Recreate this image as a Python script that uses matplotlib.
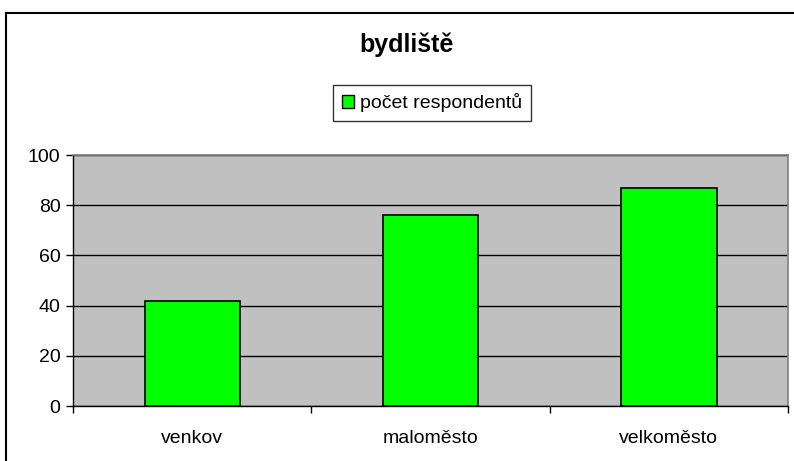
import matplotlib
matplotlib.use("Agg")
import matplotlib.pyplot as plt
from matplotlib.lines import Line2D
from matplotlib.patches import Patch

categories = ["venkov", "maloměsto", "velkoměsto"]
values = [42, 76, 87]
series_name = "počet respondentů"
title = "bydliště"
yticks = [0, 20, 40, 60, 80, 100]

plt.rcParams['font.family'] = ['Liberation Sans', 'DejaVu Sans']

W, H = 794, 461
fig = plt.figure(figsize=(W / 100, H / 100), dpi=100)
fig.patch.set_facecolor('white')

def fx(px):
    return px / W

def fy(py):
    return 1 - py / H

left, right, top, bottom = 73, 788, 155, 406
ax = fig.add_axes([fx(left), fy(bottom), fx(right) - fx(left), fy(top) - fy(bottom)])
ax.set_facecolor('#c0c0c0')

x = list(range(len(categories)))
ax.bar(x, values, width=0.4, color='#00ff00', edgecolor='black', linewidth=1.2, zorder=3)

ax.set_xlim(-0.5, len(categories) - 0.5)
ax.set_ylim(0, 100)
ax.set_yticks(yticks)
ax.set_yticklabels([str(v) for v in yticks], fontsize=14)
ax.yaxis.grid(True, color='black', linewidth=1.0, zorder=1)
ax.set_axisbelow(True)

ax.set_xticks([i - 0.5 for i in range(len(categories) + 1)], minor=False)
ax.set_xticklabels([])
ax.set_xticks(x, minor=True)
ax.set_xticklabels(categories, minor=True, fontsize=14)
ax.tick_params(axis='x', which='major', direction='out', length=5, width=1, color='black')
ax.tick_params(axis='x', which='minor', length=0, pad=17)
ax.tick_params(axis='y', direction='out', length=5, width=1, color='black', pad=4)

for s in ['top', 'right']:
    ax.spines[s].set_color('#808080')
    ax.spines[s].set_linewidth(1.2)
for s in ['left', 'bottom']:
    ax.spines[s].set_color('black')
    ax.spines[s].set_linewidth(1.0)

fig.text(fx(407), fy(45), title, ha='center', va='center', fontsize=18, fontweight='bold')

handles = [Patch(facecolor='#00ff00', edgecolor='black', linewidth=1, label=series_name)]
leg = fig.legend(handles=handles, loc='center', bbox_to_anchor=(fx(432), fy(103)),
                 fontsize=14, frameon=True, fancybox=False, edgecolor='black',
                 handlelength=0.6, handleheight=0.6, handletextpad=0.3, borderpad=0.45)
leg.get_frame().set_linewidth(1.0)

fig.add_artist(Line2D([fx(6), fx(794)], [fy(13), fy(13)], color='black', linewidth=1.5))
fig.add_artist(Line2D([fx(6), fx(6)], [fy(13), fy(461)], color='black', linewidth=1.5))

fig.savefig('out.png', dpi=100)
